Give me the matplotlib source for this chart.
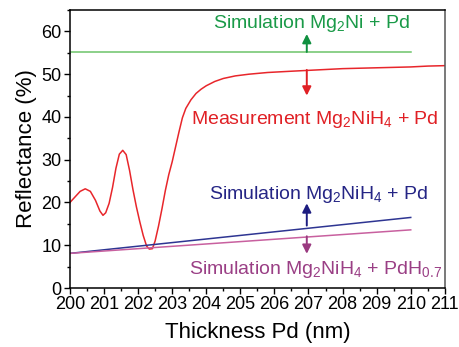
import matplotlib
matplotlib.use("Agg")
import matplotlib.pyplot as plt
from matplotlib.ticker import MultipleLocator

plt.rcParams['font.family'] = ['Liberation Sans', 'DejaVu Sans']
plt.rcParams['mathtext.default'] = 'regular'

# Measured reflectance Mg2NiH4 + Pd
meas_x = [200.0, 200.15, 200.3, 200.45, 200.6, 200.75, 200.88, 200.97, 201.05, 201.15,
          201.25, 201.35, 201.45, 201.55, 201.65, 201.75, 201.85, 201.95, 202.05, 202.15,
          202.25, 202.33, 202.42, 202.5, 202.6, 202.7, 202.8, 202.9, 203.0, 203.1,
          203.2, 203.3, 203.4, 203.55, 203.7, 203.85, 204.0, 204.25, 204.5, 204.85,
          205.25, 205.8, 206.5, 207.0, 207.5, 208.0, 208.5, 209.0, 209.5, 210.0,
          210.5, 211.0]
meas_y = [20.0, 21.3, 22.6, 23.2, 22.6, 20.5, 18.0, 17.0, 17.6, 19.8,
          23.5, 28.0, 31.3, 32.2, 31.2, 27.5, 23.0, 19.0, 15.5, 12.3,
          9.8, 9.1, 9.2, 11.0, 14.5, 18.5, 22.8, 26.5, 29.5, 33.0,
          36.5, 39.8, 42.0, 44.0, 45.5, 46.5, 47.3, 48.3, 49.0, 49.6,
          50.0, 50.4, 50.7, 50.9, 51.1, 51.3, 51.4, 51.5, 51.6, 51.7,
          51.9, 52.0]

# Simulations
sim_x = [200, 210]
sim_mg2ni = [55.2, 55.2]
sim_mg2nih4 = [8.1, 16.5]
sim_mg2nih4_pdh = [8.1, 13.6]

fig = plt.figure(figsize=(4.6, 3.47), dpi=100)
ax = fig.add_axes([0.152, 0.170, 0.815, 0.801])

ax.plot(sim_x, sim_mg2ni, color='#6cc46a', lw=1.1)
ax.plot(meas_x, meas_y, color='#e8262b', lw=1.1)
ax.plot(sim_x, sim_mg2nih4, color='#2e3592', lw=1.1)
ax.plot(sim_x, sim_mg2nih4_pdh, color='#c8609f', lw=1.1)

arrow_x = 206.95
arrows = [(55.2, 59.4, '#109040'), (51.0, 45.0, '#e02025'),
          (14.6, 19.8, '#1d1d80'), (12.1, 8.0, '#9a3a80')]
for y0, y1, c in arrows:
    ax.annotate('', xy=(arrow_x, y1), xytext=(arrow_x, y0),
                arrowprops=dict(arrowstyle='-|>', color=c, lw=1.4,
                                mutation_scale=13, shrinkA=0, shrinkB=0))

ax.text(207.08, 60.9, 'Simulation Mg$_2$Ni + Pd', color='#1a9a48',
        fontsize=14, ha='center', va='baseline')
ax.text(207.2, 38.4, 'Measurement Mg$_2$NiH$_4$ + Pd', color='#e02025',
        fontsize=14, ha='center', va='baseline')
ax.text(207.3, 20.7, 'Simulation Mg$_2$NiH$_4$ + Pd', color='#252585',
        fontsize=14, ha='center', va='baseline')
ax.text(207.2, 3.2, 'Simulation Mg$_2$NiH$_4$ + PdH$_{0.7}$', color='#9a3f85',
        fontsize=14, ha='center', va='baseline')

ax.set_xlim(200, 211)
ax.set_ylim(0, 65)
ax.xaxis.set_major_locator(MultipleLocator(1))
ax.xaxis.set_minor_locator(MultipleLocator(0.5))
ax.yaxis.set_major_locator(MultipleLocator(10))
ax.yaxis.set_minor_locator(MultipleLocator(5))
ax.tick_params(which='major', direction='out', length=4, width=1, labelsize=13, pad=2)
ax.tick_params(which='minor', direction='out', length=2.5, width=1)
ax.tick_params(top=False, right=False)
for s in ax.spines.values():
    s.set_linewidth(1.1)
ax.spines['right'].set_color('#555555')

ax.set_xlabel('Thickness Pd (nm)', fontsize=16, labelpad=6)
ax.set_ylabel('Reflectance (%)', fontsize=16, labelpad=3)

fig.savefig('out.png', dpi=100)
